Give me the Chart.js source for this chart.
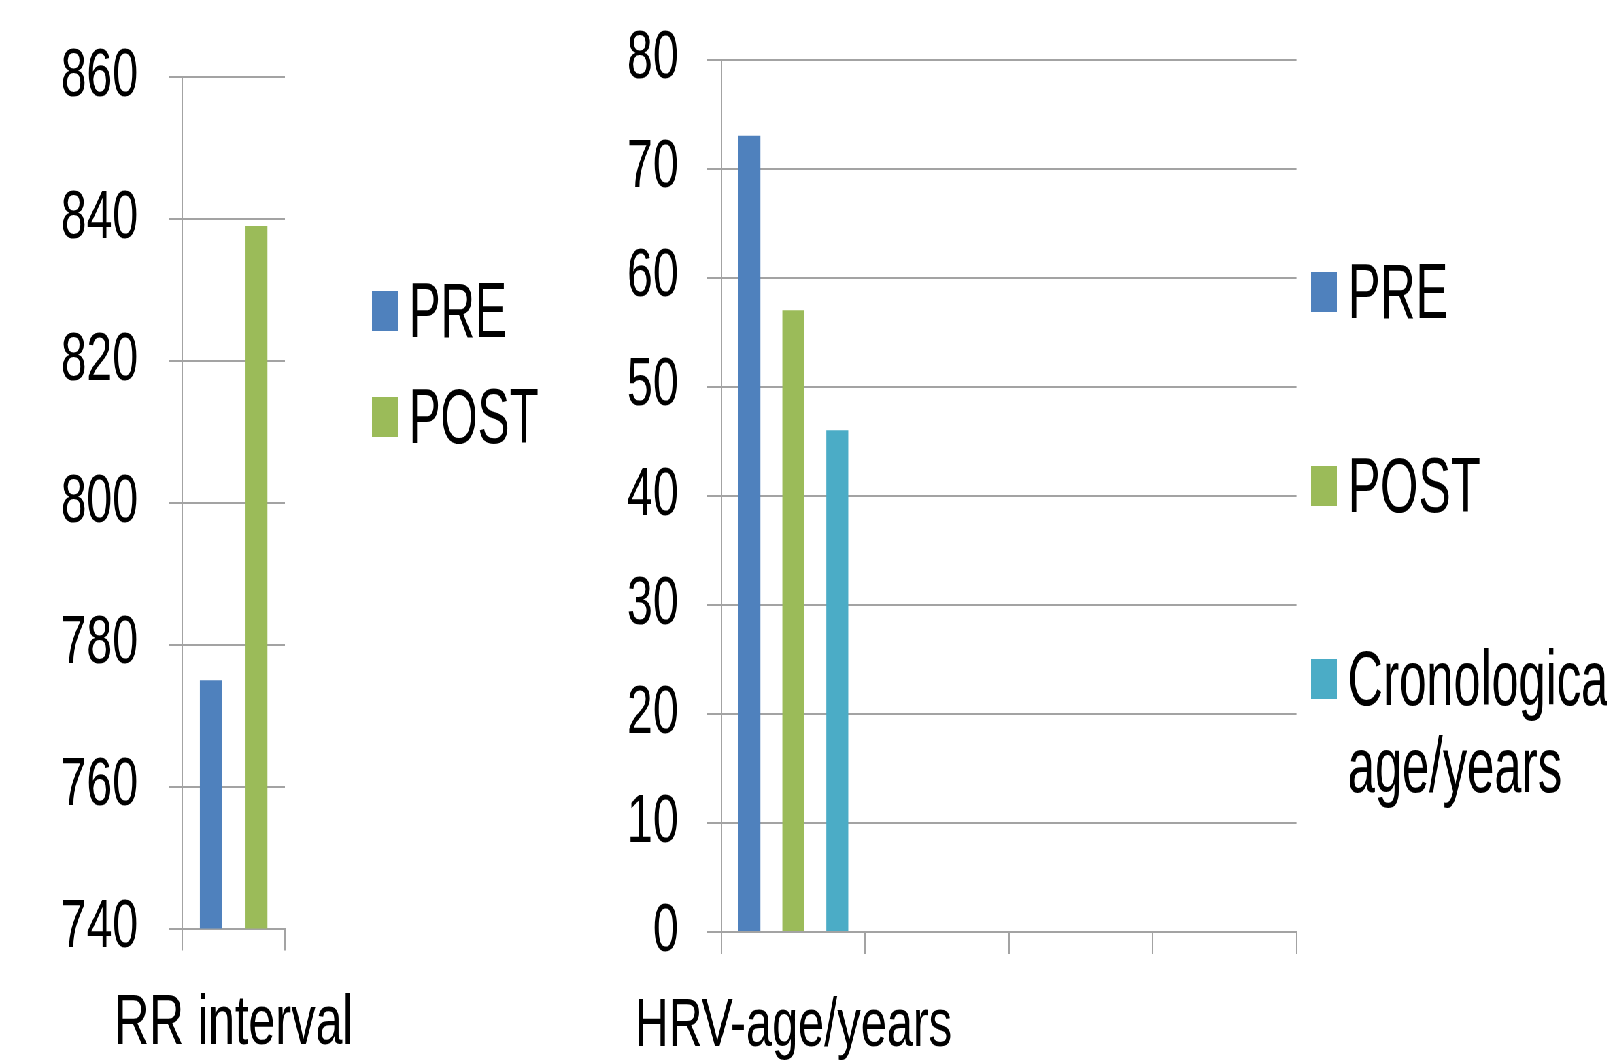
<!DOCTYPE html>
<html lang="en">
<head>
<meta charset="UTF-8">
<title>RR interval and HRV-age</title>
<script src="https://cdn.jsdelivr.net/npm/chart.js"></script>
<style>
  html, body { margin: 0; padding: 0; background: #fff; overflow: hidden; }
  /* the original picture is squeezed sideways, so draw wide and squeeze it */
  #stage { position: absolute; left: 0; top: 0; width: 2363px; height: 1064px; transform: scaleX(0.68); transform-origin: 0 0; }
  #rrCanvas { position: absolute; left: 0; top: 0; }
  #hrvCanvas { position: absolute; left: 860px; top: 0; }
</style>
</head>
<body>
<div id="stage">
  <canvas id="rrCanvas" width="820" height="1064"></canvas>
  <canvas id="hrvCanvas" width="1503" height="1064"></canvas>
</div>
<script>
// data
const rrCategories = ['RR interval'];
const rrSeries = ['PRE', 'POST'];
const rrPre = [775];
const rrPost = [839];

const hrvCategories = ['HRV-age/years', '', '', ''];
const hrvSeries = ['PRE', 'POST', 'Cronological age/years'];
const hrvPre = [73, null, null, null];
const hrvPost = [57, null, null, null];
const hrvCrono = [46, null, null, null];

const colors = ['#4F81BD', '#9BBB59', '#4BACC6'];
const GRID = '#a3a3a3';
const FONT = "'Liberation Sans', Arial, sans-serif";

function wrapWords(ctx, text, maxWidth) {
    const words = String(text).split(' ');
    const lines = [];
    let cur = '';
    words.forEach(w => {
        const test = cur ? cur + ' ' + w : w;
        if (cur && ctx.measureText(test).width > maxWidth) {
            lines.push(cur);
            cur = w;
        } else {
            cur = test;
        }
    });
    if (cur) lines.push(cur);
    return lines;
}

// legend drawn beside the plot, like the office chart
const sideLegend = {
    id: 'sideLegend',
    afterDraw(chart, args, opts) {
        const ctx = chart.ctx;
        ctx.save();
        ctx.font = opts.fontSize + 'px ' + FONT;
        ctx.textBaseline = 'middle';
        ctx.textAlign = 'left';
        chart.data.datasets.forEach((ds, i) => {
            const yc = opts.centers[i];
            ctx.fillStyle = ds.backgroundColor;
            ctx.fillRect(opts.x, yc - opts.boxH / 2, opts.boxW, opts.boxH);
            const lines = wrapWords(ctx, ds.label, opts.maxWidth / opts.textScale);
            ctx.fillStyle = '#000';
            lines.forEach((line, j) => {
                ctx.save();
                ctx.translate(opts.textX, yc + opts.textShift + j * opts.lineGap);
                ctx.scale(opts.textScale, 1);
                ctx.fillText(line, 0, 0);
                ctx.restore();
            });
        });
        ctx.restore();
    }
};

function axisX(size, padding, height) {
    return {
        grid: { drawOnChartArea: false, color: GRID, lineWidth: 2, tickLength: 22 },
        border: { color: GRID, width: 2 },
        ticks: { font: { family: FONT, size: size }, color: '#000', padding: padding, maxRotation: 0, minRotation: 0, autoSkip: false },
        afterFit: s => { s.height = height; }
    };
}

function axisY(min, max, step, padding, tickLength, width) {
    return {
        min: min,
        max: max,
        ticks: { stepSize: step, font: { family: FONT, size: 68 }, color: '#000', padding: padding },
        grid: { color: GRID, lineWidth: 2, tickLength: tickLength },
        border: { color: GRID, width: 2 },
        afterFit: s => {
            s.width = width;
            // let layout.padding alone decide the top of the plot
            s.paddingTop = 0;
            s.paddingBottom = 0;
        }
    };
}

new Chart(document.getElementById('rrCanvas'), {
    type: 'bar',
    data: {
        labels: rrCategories,
        datasets: [
            { label: rrSeries[0], data: rrPre, backgroundColor: colors[0] },
            { label: rrSeries[1], data: rrPost, backgroundColor: colors[1] }
        ]
    },
    options: {
        responsive: false,
        animation: false,
        layout: { padding: { top: 77, right: 401, bottom: 0, left: 0 } },
        datasets: { bar: { categoryPercentage: 0.89, barPercentage: 0.48 } },
        plugins: {
            legend: { display: false },
            tooltip: { enabled: false },
            sideLegend: {
                x: 547, boxW: 38, boxH: 40, textX: 601, fontSize: 78, textScale: 0.9,
                textShift: 4, lineGap: 87, maxWidth: 450, centers: [311, 417]
            }
        },
        scales: {
            x: axisX(71, 31, 135.4),
            y: axisY(740, 860, 20, 45.5, 19.7, 268.2)
        }
    },
    plugins: [sideLegend]
});

new Chart(document.getElementById('hrvCanvas'), {
    type: 'bar',
    data: {
        labels: hrvCategories,
        datasets: [
            { label: hrvSeries[0], data: hrvPre, backgroundColor: colors[0] },
            { label: hrvSeries[1], data: hrvPost, backgroundColor: colors[1] },
            { label: hrvSeries[2], data: hrvCrono, backgroundColor: colors[2] }
        ]
    },
    options: {
        responsive: false,
        animation: false,
        layout: { padding: { top: 59.5, right: 456.4, bottom: 0, left: 0 } },
        datasets: { bar: { categoryPercentage: 0.917, barPercentage: 0.5 } },
        plugins: {
            legend: { display: false },
            tooltip: { enabled: false },
            sideLegend: {
                x: 1068, boxW: 38, boxH: 40, textX: 1122, fontSize: 78, textScale: 0.92,
                textShift: 4, lineGap: 87, maxWidth: 450, centers: [292, 486, 679]
            }
        },
        scales: {
            x: axisX(69, 32, 132),
            y: axisY(0, 80, 10, 42, 21.3, 201)
        }
    },
    plugins: [sideLegend]
});
</script>
</body>
</html>
